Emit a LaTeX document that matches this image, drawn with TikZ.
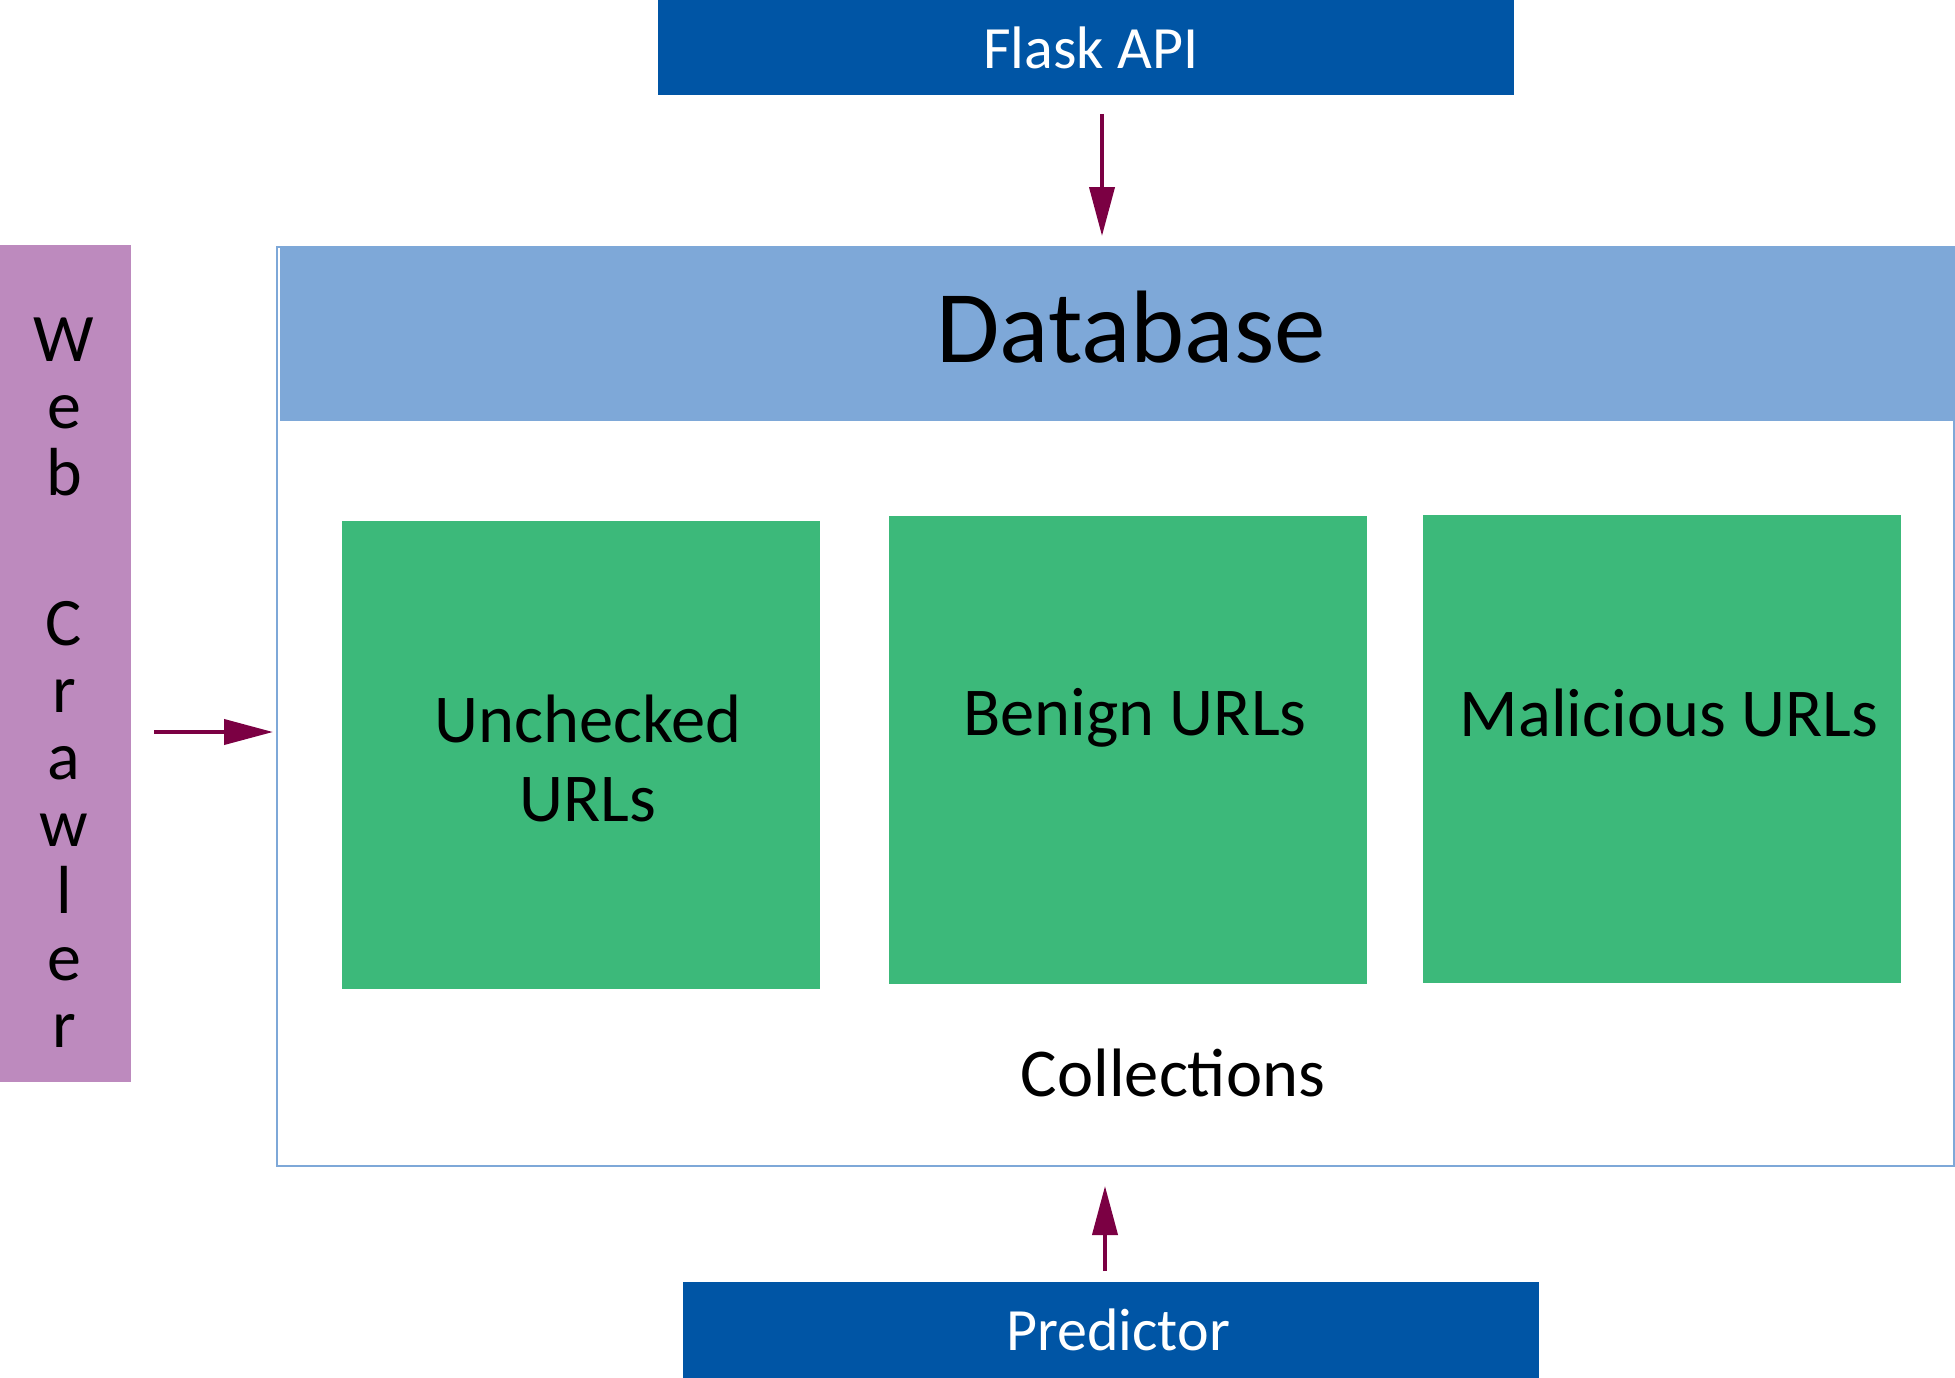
\documentclass[tikz,border=0pt]{standalone}
\usepackage{fontspec}
\setmainfont{Carlito}
\usetikzlibrary{arrows.meta}
\definecolor{flaskblue}{HTML}{0055A5}
\definecolor{headblue}{HTML}{7EA8D8}
\definecolor{urlgreen}{HTML}{3CB97A}
\definecolor{crawlpurple}{HTML}{BD8ABE}
\definecolor{arrowred}{HTML}{7B0043}
\tikzset{
  darkbox/.style={rectangle, fill=flaskblue, inner sep=0pt, outer sep=0pt},
  darktext/.style={inner sep=0pt, text=white, font=\fontsize{60}{66}\selectfont},
  greenbox/.style={rectangle, fill=urlgreen, inner sep=0pt, outer sep=0pt, minimum width=478pt, minimum height=468pt},
  lbl/.style={inner sep=0pt, align=center, font=\fontsize{68.5}{79}\selectfont},
  arr/.style={draw=arrowred, line width=4pt, -{Triangle[length=49pt,width=25pt]}},
}
\begin{document}
\begin{tikzpicture}[x=1pt,y=-1pt]
\useasboundingbox (0,0) rectangle (1955,1378);
% Flask API
\node[darkbox, minimum width=856pt, minimum height=95pt] (flask) at (1086,47.5) {};
\node[darktext] (flasktext) at (1091,47.5) {Flask API};
% outer database box
\node[rectangle, draw=headblue, line width=1.5pt, inner sep=0pt, outer sep=0pt, minimum width=1677pt, minimum height=919pt] (db) at (1115.5,706.5) {};
% header
\node[rectangle, fill=headblue, inner sep=0pt, outer sep=0pt, minimum width=1675pt, minimum height=174pt] (head) at (1117.5,334) {};
\node[lbl, font=\fontsize{103}{110}\selectfont] (dbtext) at (1131,327) {Database};
% collections
\node[greenbox] (unchecked) at (580.5,755) {};
\node[greenbox] (benign) at (1128,750) {};
\node[greenbox] (malicious) at (1661.5,748.5) {};
\node[lbl] (unchtext) at (588,758) {Unchecked\\URLs};
\node[lbl] (bentext) at (1135,718) {Benign URLs};
\node[lbl] (maltext) at (1669,713) {Malicious URLs};
\node[lbl] (coll) at (1173,1073) {Collections};
% Web crawler
\node[rectangle, fill=crawlpurple, inner sep=0pt, outer sep=0pt, minimum width=131pt, minimum height=837pt] (crawler) at (65.5,663.5) {};
\node[inner sep=0pt, align=center, font=\fontsize{68}{67}\selectfont] (crawltext) at (64,683) {W\\e\\b\\[83pt]C\\r\\a\\w\\l\\e\\r};
% Predictor
\node[darkbox, minimum width=856pt, minimum height=96pt] (pred) at (1111,1330) {};
\node[darktext] (predtext) at (1118,1330) {Predictor};
% arrows
\coordinate (fx) at (1102,0);
\coordinate (px) at (1105,0);
\coordinate (cy) at (0,732);
\draw[arr, shorten <=19pt, shorten >=11pt] (flask.south -| fx) -- (head.north -| fx);
\draw[arr, shorten <=23pt, shorten >=4pt] (crawler.east |- cy) -- (db.west |- cy);
\draw[arr, shorten <=11pt, shorten >=20pt] (pred.north -| px) -- (db.south -| px);
\end{tikzpicture}
\end{document}
